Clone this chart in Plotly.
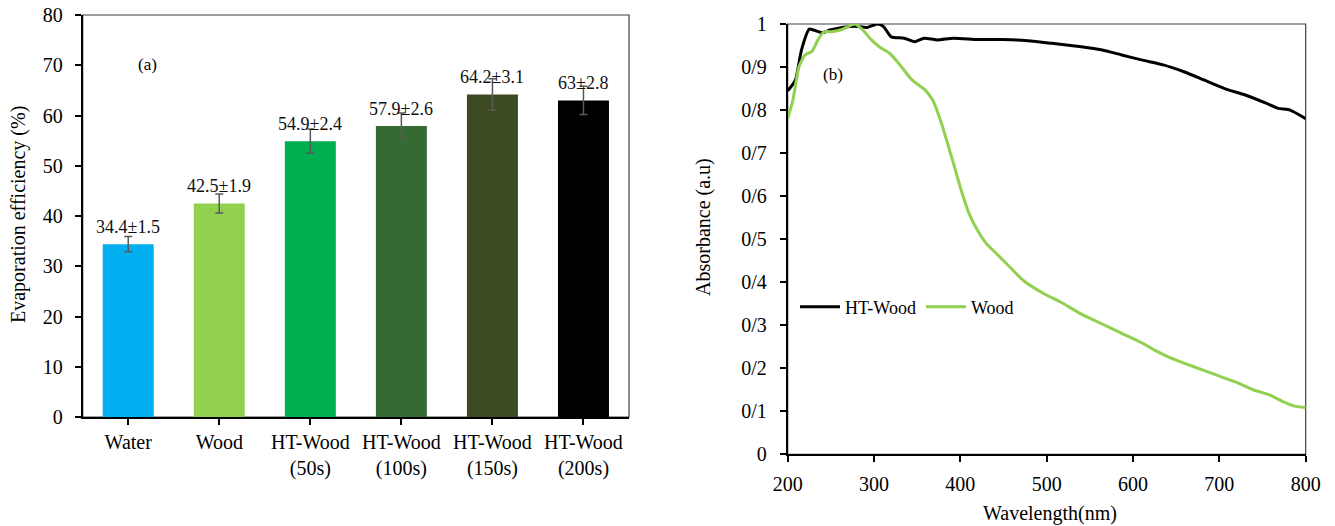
import plotly.graph_objects as go

# ---------------- data ----------------
categories = ["Water", "Wood", "HT-Wood<br>(50s)", "HT-Wood<br>(100s)", "HT-Wood<br>(150s)", "HT-Wood<br>(200s)"]
efficiency = [34.4, 42.5, 54.9, 57.9, 64.2, 63]
efficiency_err = [1.5, 1.9, 2.4, 2.6, 3.1, 2.8]
bar_colors = ["#00B0F0", "#92D050", "#00B050", "#366A33", "#3C4B22", "#000000"]

ht_wl = [200, 201, 209, 216, 225, 230, 240, 249, 263, 278, 292, 304, 311, 320, 335, 347, 358, 373, 392,
         420, 449, 478, 506, 540, 563, 587, 611, 635, 659, 682, 706, 730, 754, 768, 782, 800]
ht_abs = [0.845, 0.847, 0.87, 0.94, 0.988, 0.986, 0.98, 0.986, 0.992, 0.995, 0.992, 1.0, 0.994, 0.97,
          0.967, 0.959, 0.967, 0.963, 0.967, 0.964, 0.964, 0.961, 0.955, 0.947, 0.94, 0.928, 0.916,
          0.905, 0.889, 0.87, 0.85, 0.835, 0.816, 0.804, 0.8, 0.78]

wood_wl = [200, 206, 213, 220, 228, 235, 242, 251, 261, 268, 278, 287, 297, 306, 318, 330, 344, 359, 368,
           378, 392, 400, 410, 420, 430, 440, 455, 473, 497, 516, 539, 563, 587, 611, 625, 640, 659, 682,
           706, 720, 739, 758, 773, 787, 800]
wood_abs = [0.78, 0.823, 0.90, 0.928, 0.936, 0.963, 0.982, 0.982, 0.986, 0.992, 1.0, 0.986, 0.963, 0.947,
            0.932, 0.905, 0.87, 0.847, 0.823, 0.77, 0.676, 0.62, 0.56, 0.52, 0.49, 0.47, 0.44, 0.404,
            0.373, 0.354, 0.327, 0.304, 0.281, 0.258, 0.242, 0.227, 0.212, 0.195, 0.177, 0.167, 0.150,
            0.138, 0.123, 0.112, 0.109]

y2_ticks = [0, 0.1, 0.2, 0.3, 0.4, 0.5, 0.6, 0.7, 0.8, 0.9, 1.0]
y2_ticktext = ["0", "0/1", "0/2", "0/3", "0/4", "0/5", "0/6", "0/7", "0/8", "0/9", "1"]

FONT = "Liberation Serif, Times New Roman, serif"

fig = go.Figure()

fig.add_trace(go.Bar(
    x=categories, y=efficiency,
    marker=dict(color=bar_colors, line=dict(width=0)),
    error_y=dict(type="data", array=efficiency_err, color="#595959", thickness=1.5, width=4),
    xaxis="x", yaxis="y", showlegend=False,
))

for c, v, e in zip(categories, efficiency, efficiency_err):
    fig.add_annotation(x=c, y=v, xref="x", yref="y", text=f"{v:g}±{e:g}", showarrow=False,
                       xanchor="center", yanchor="middle",
                       yshift=17, font=dict(family=FONT, size=18, color="#111"))

fig.add_trace(go.Scatter(x=ht_wl, y=ht_abs, mode="lines", name="HT-Wood",
                         line=dict(color="#000000", width=3, shape="spline", smoothing=0.6),
                         xaxis="x2", yaxis="y2"))
fig.add_trace(go.Scatter(x=wood_wl, y=wood_abs, mode="lines", name="Wood",
                         line=dict(color="#92D050", width=3, shape="spline", smoothing=0.6),
                         xaxis="x2", yaxis="y2"))

W, H = 1335, 526
lx0, lx1, ly0, ly1 = 82.7, 629, 15, 417
rx0, rx1, ry0, ry1 = 787.7, 1305.7, 24, 454.3

axis_common = dict(showgrid=False, zeroline=False, showline=True, linecolor="black", linewidth=2,
                   ticks="outside", ticklen=6, tickwidth=1.5, tickcolor="black", automargin=False,
                   tickfont=dict(family=FONT, size=20, color="black"))

fig.update_layout(
    width=W, height=H,
    margin=dict(l=0, r=0, t=0, b=0),
    paper_bgcolor="white", plot_bgcolor="white",
    font=dict(family=FONT, size=20, color="black"),
    bargap=0.44,
    xaxis=dict(domain=[lx0 / W, lx1 / W], anchor="y", type="category", **axis_common),
    yaxis=dict(domain=[1 - ly1 / H, 1 - ly0 / H], anchor="x", range=[0, 80], dtick=10,
               ticklabelstandoff=8, **axis_common),
    xaxis2=dict(domain=[rx0 / W, rx1 / W], anchor="y2", range=[200, 800], dtick=100,
                ticklabelstandoff=5, **axis_common),
    yaxis2=dict(domain=[1 - ry1 / H, 1 - ry0 / H], anchor="x2", range=[0, 1],
                tickvals=y2_ticks, ticktext=y2_ticktext, ticklabelstandoff=9, **axis_common),
    legend=dict(orientation="h", x=795 / W, y=1 - 307 / H, xanchor="left", yanchor="middle",
                bgcolor="rgba(0,0,0,0)", font=dict(family=FONT, size=18), itemwidth=40,
                tracegroupgap=0),
)

# thin box borders (top/right)
for xr, yr in (("x domain", "y domain"), ("x2 domain", "y2 domain")):
    fig.add_shape(type="rect", xref=xr, yref=yr, x0=0, x1=1, y0=0, y1=1,
                  line=dict(color="#404040", width=1.2), layer="below")

# axis titles
fig.add_annotation(xref="paper", yref="paper", x=18 / W, y=1 - 215 / H, text="Evaporation efficiency (%)",
                   textangle=-90, showarrow=False, xanchor="center", yanchor="middle",
                   font=dict(family=FONT, size=20))
fig.add_annotation(xref="paper", yref="paper", x=703 / W, y=1 - 227 / H, text="Absorbance (a.u)",
                   textangle=-90, showarrow=False, xanchor="center", yanchor="middle",
                   font=dict(family=FONT, size=20))
fig.add_annotation(xref="paper", yref="paper", x=1050 / W, y=1 - 513 / H, text="Wavelength(nm)",
                   showarrow=False, xanchor="center", yanchor="middle", font=dict(family=FONT, size=20))

fig.add_annotation(xref="x domain", yref="y domain", x=(147 - lx0) / (lx1 - lx0), y=(ly1 - 65) / (ly1 - ly0),
                   text="(a)", showarrow=False, xanchor="center", yanchor="middle",
                   font=dict(family=FONT, size=17))
fig.add_annotation(xref="x2 domain", yref="y2 domain", x=(833 - rx0) / (rx1 - rx0), y=(ry1 - 75) / (ry1 - ry0),
                   text="(b)", showarrow=False, xanchor="center", yanchor="middle",
                   font=dict(family=FONT, size=17))

fig.write_html("out.html")
